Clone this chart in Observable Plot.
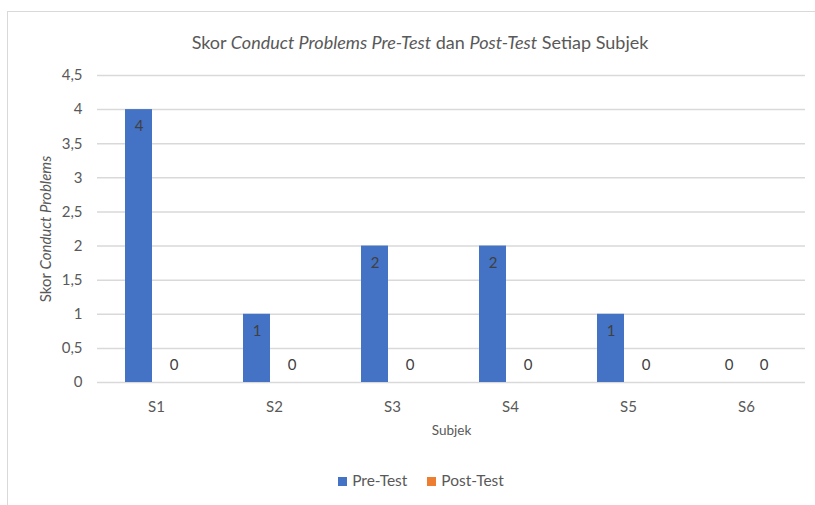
<!DOCTYPE html>
<html>
<head>
<meta charset="utf-8">
<script src="https://cdn.jsdelivr.net/npm/d3@7"></script>
<script src="https://cdn.jsdelivr.net/npm/@observablehq/plot@0.6"></script>
<style>
  html, body { margin: 0; padding: 0; background: #fff; }
  body { width: 815px; height: 505px; position: relative; overflow: hidden; font-family: Lato, "Open Sans", sans-serif; color: #595959; }
  #frame { position: absolute; left: 7px; top: 11px; width: 840px; height: 520px; border: 1.5px solid #d9d9d9; box-sizing: border-box; }
  #title { position: absolute; left: 0; width: 840px; top: 31px; text-align: center; font-size: 18px; color: #595959; }
  #ylabel { position: absolute; left: 45px; top: 229px; transform: translate(-50%, -50%) rotate(-90deg); white-space: nowrap; font-size: 15px; color: #595959; }
  #chart { position: absolute; left: 0; top: 60px; }
  #legend { position: absolute; top: 471px; left: 0; width: 842px; text-align: center; font-size: 15.5px; color: #595959; }
  #legend span.item { display: inline-block; margin: 0 10px; }
  #legend span.sw { display: inline-block; width: 9px; height: 9px; margin-right: 5px; vertical-align: 0px; }
</style>
</head>
<body>
<div id="frame"></div>
<div id="title">Skor <i>Conduct Problems Pre-Test</i> dan <i>Post-Test</i> Setiap Subjek</div>
<div id="ylabel">Skor <i>Conduct Problems</i></div>
<div id="chart"></div>
<div id="legend"></div>
<script>
const subjects = ["S1", "S2", "S3", "S4", "S5", "S6"];
const series = ["Pre-Test", "Post-Test"];
const preTest = [4, 1, 2, 2, 1, 0];
const postTest = [0, 0, 0, 0, 0, 0];
const colors = ["#4472C4", "#ED7D31"];
const yTicks = [0, 0.5, 1, 1.5, 2, 2.5, 3, 3.5, 4, 4.5];

const data = [];
subjects.forEach((s, i) => {
  data.push({subject: s, series: series[0], value: preTest[i]});
  data.push({subject: s, series: series[1], value: postTest[i]});
});

const fmt = d => String(d).replace(".", ",");

const chart = Plot.plot({
  width: 815,
  height: 390,
  marginLeft: 95,
  marginRight: 9,
  marginTop: 15,
  marginBottom: 68,
  style: {fontFamily: "Lato, 'Open Sans', sans-serif", fontSize: "15px", color: "#595959", background: "transparent"},
  fx: {domain: subjects, padding: 0, label: "Subjek", labelAnchor: "center", labelOffset: 52, tickSize: 0, tickPadding: 19},
  x: {domain: series, paddingInner: 0.23, paddingOuter: 0.76, axis: null},
  y: {domain: [0, 4.5], ticks: yTicks, tickFormat: fmt, tickSize: 0, tickPadding: 15, label: null},
  color: {domain: series, range: colors},
  marks: [
    Plot.ruleY(yTicks, {stroke: "#d9d9d9", strokeWidth: 1.5}),
    Plot.barY(data, {fx: "subject", x: "series", y: "value", fill: "series"}),
    Plot.text(data.filter(d => d.value > 0), {fx: "subject", x: "series", y: "value", text: d => fmt(d.value), dy: 17, fill: "#404040", fontSize: 15}),
    Plot.text(data.filter(d => d.value === 0), {fx: "subject", x: "series", y: "value", text: d => fmt(d.value), dy: -17, fill: "#404040", fontSize: 15})
  ]
});
chart.querySelectorAll("[aria-label='fx-axis label'] text, [aria-label='fx-axis label']").forEach(el => el.setAttribute("font-size", "13.5"));
document.getElementById("chart").appendChild(chart);

const legend = document.getElementById("legend");
series.forEach((s, i) => {
  const item = document.createElement("span");
  item.className = "item";
  const sw = document.createElement("span");
  sw.className = "sw";
  sw.style.background = colors[i];
  item.appendChild(sw);
  item.appendChild(document.createTextNode(s));
  legend.appendChild(item);
});
</script>
</body>
</html>
